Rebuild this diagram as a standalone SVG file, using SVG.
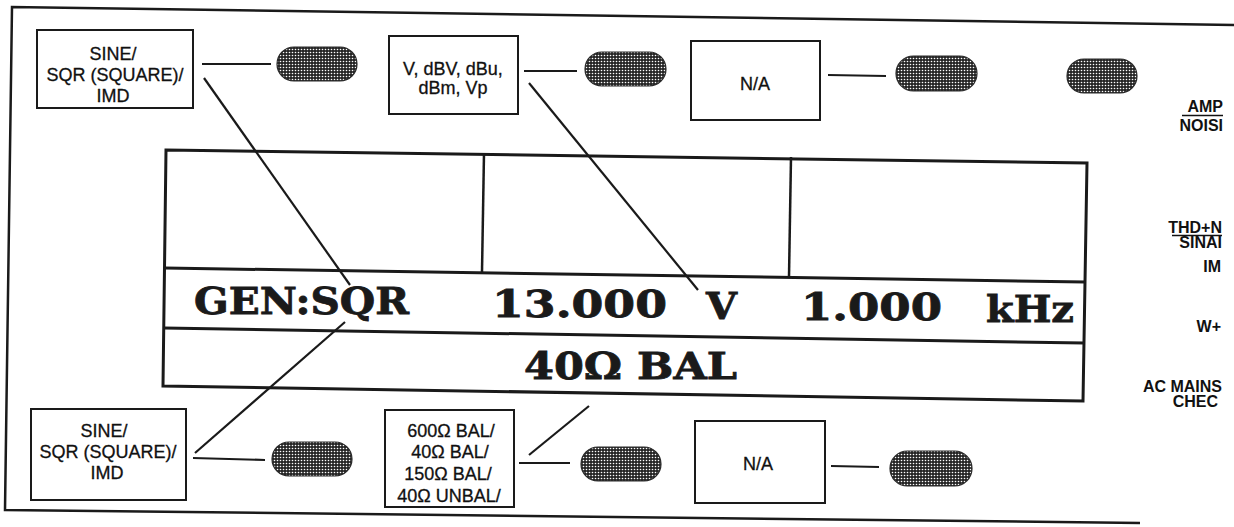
<svg xmlns="http://www.w3.org/2000/svg" width="1234" height="527" viewBox="0 0 1234 527">
<defs>
<pattern id="dots" width="3" height="3" patternUnits="userSpaceOnUse"><rect width="3" height="3" fill="#262626"/><circle cx="1.5" cy="1.5" r="0.8" fill="#fff"/></pattern>
<style>
.frame{fill:none;stroke:#1a1a1a;stroke-width:2.5}
.box{fill:#fff;stroke:#1a1a1a;stroke-width:2}
.key{fill:url(#dots);stroke:#2a2a2a;stroke-width:1.2}
.conn{fill:none;stroke:#1a1a1a;stroke-width:2.2}
.lbl{font-family:"Liberation Sans",Arial,sans-serif;font-size:18px;fill:#111;stroke:#111;stroke-width:0.3;text-anchor:middle}
.side{font-family:"Liberation Sans",Arial,sans-serif;font-size:16px;font-weight:bold;fill:#111;text-anchor:end}
.lcd{font-family:"DejaVu Serif","Liberation Serif",serif;font-size:37px;font-weight:bold;fill:#1a1a1a;stroke:#1a1a1a;stroke-width:0.8}
</style>
</defs>
<rect width="1234" height="527" fill="#fff"/>
<g id="frame">
<polyline class="frame" points="1234,25 12,7 5,510 1140,523"/>
</g>
<g id="display">
<polygon class="frame" style="stroke-width:3" points="166,150 1087,163 1083,401 163,386"/>
<line class="frame" style="stroke-width:3" x1="165" y1="268" x2="1085" y2="282"/>
<line class="frame" style="stroke-width:3" x1="164" y1="328" x2="1084" y2="343"/>
<line class="frame" x1="484" y1="153" x2="482" y2="272"/>
<line class="frame" x1="791" y1="157" x2="789" y2="277"/>
<text class="lcd" x="194" y="314" textLength="215" lengthAdjust="spacingAndGlyphs">GEN:SQR</text>
<text class="lcd" x="492" y="317" textLength="175" lengthAdjust="spacingAndGlyphs">13.000</text>
<text class="lcd" x="706" y="319" textLength="31" lengthAdjust="spacingAndGlyphs">V</text>
<text class="lcd" x="801" y="320" textLength="141" lengthAdjust="spacingAndGlyphs">1.000</text>
<text class="lcd" x="986" y="322" textLength="88" lengthAdjust="spacingAndGlyphs">kHz</text>
<text class="lcd" x="524" y="379" textLength="213" lengthAdjust="spacingAndGlyphs">40Ω BAL</text>
</g>
<g id="box-top-func">
<rect class="box" x="37" y="30" width="156" height="78"/>
<text class="lbl" x="113" y="60">SINE/</text>
<text class="lbl" x="115" y="81">SQR (SQUARE)/</text>
<text class="lbl" x="113" y="102">IMD</text>
</g>
<g id="box-top-units">
<rect class="box" x="389" y="36" width="129" height="78"/>
<text class="lbl" x="453" y="75">V, dBV, dBu,</text>
<text class="lbl" x="453" y="94">dBm, Vp</text>
</g>
<g id="box-top-na">
<rect class="box" x="691" y="41" width="129" height="79"/>
<text class="lbl" x="755" y="90">N/A</text>
</g>
<g id="box-bot-func">
<rect class="box" x="31" y="409" width="155" height="91"/>
<text class="lbl" x="104" y="437">SINE/</text>
<text class="lbl" x="108" y="458">SQR (SQUARE)/</text>
<text class="lbl" x="107" y="479">IMD</text>
</g>
<g id="box-bot-imp">
<rect class="box" x="385" y="410" width="129" height="97"/>
<text class="lbl" x="451" y="437">600Ω BAL/</text>
<text class="lbl" x="450" y="458">40Ω BAL/</text>
<text class="lbl" x="448" y="480">150Ω BAL/</text>
<text class="lbl" x="449" y="502">40Ω UNBAL/</text>
</g>
<g id="box-bot-na">
<rect class="box" x="695" y="421" width="130" height="82"/>
<text class="lbl" x="758" y="470">N/A</text>
</g>
<g id="key-1"><rect class="key" x="277" y="47" width="80" height="34" rx="17"/></g>
<g id="key-2"><rect class="key" x="585" y="52" width="81" height="34" rx="17"/></g>
<g id="key-3"><rect class="key" x="896" y="56" width="81" height="35" rx="17.5"/></g>
<g id="key-4"><rect class="key" x="1067" y="59" width="70" height="34" rx="17"/></g>
<g id="key-5"><rect class="key" x="272" y="442" width="80" height="34" rx="17"/></g>
<g id="key-6"><rect class="key" x="581" y="447" width="80" height="34" rx="17"/></g>
<g id="key-7"><rect class="key" x="890" y="451" width="82" height="35" rx="17.5"/></g>
<g id="side-labels">
<text class="side" x="1223" y="112">AMP</text>
<line x1="1182" y1="115.5" x2="1223" y2="115.5" stroke="#111" stroke-width="1.5"/>
<text class="side" x="1223" y="131">NOISI</text>
<text class="side" x="1222" y="233">THD+N</text>
<line x1="1172" y1="235.5" x2="1222" y2="235.5" stroke="#111" stroke-width="1.5"/>
<text class="side" x="1222" y="248">SINAI</text>
<text class="side" x="1221" y="272">IM</text>
<text class="side" x="1221" y="332">W+</text>
<text class="side" x="1222" y="392">AC MAINS</text>
<text class="side" x="1218" y="407">CHEC</text>
</g>
<g id="connectors">
<line class="conn" x1="202" y1="64" x2="271" y2="64"/>
<line class="conn" x1="204" y1="78" x2="350" y2="285"/>
<line class="conn" x1="524" y1="71" x2="577" y2="71"/>
<line class="conn" x1="529" y1="83" x2="698" y2="290"/>
<line class="conn" x1="828" y1="75" x2="886" y2="76"/>
<line class="conn" x1="193" y1="458" x2="265" y2="460"/>
<line class="conn" x1="195" y1="453" x2="345" y2="322"/>
<line class="conn" x1="519" y1="463" x2="570" y2="463"/>
<line class="conn" x1="529" y1="455" x2="589" y2="406"/>
<line class="conn" x1="831" y1="466" x2="879" y2="467"/>
</g>
</svg>
